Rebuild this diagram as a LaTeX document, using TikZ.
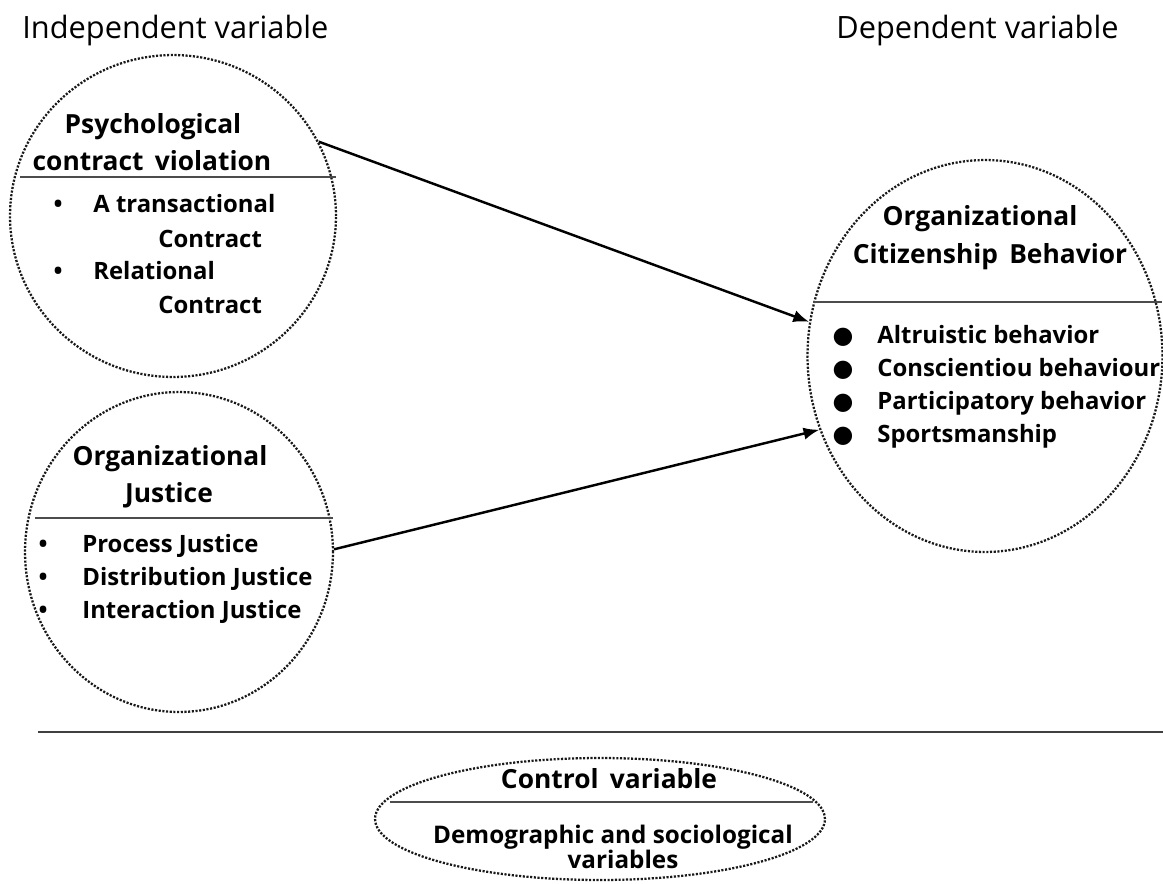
\documentclass[tikz,border=0pt]{standalone}
\usepackage{fontspec}
\setmainfont{Open Sans}
\newfontfamily\bulletfont{DejaVu Sans}
\usetikzlibrary{arrows.meta, shapes.geometric, calc}
\tikzset{
    my-circle/.style={
        ellipse, draw=black!90, line width=1.3pt, dash pattern=on 1.2pt off 0.9pt, inner sep=0pt
    },
    my-divider/.style={
        draw=black!70, line width=0.8pt
    },
    my-title/.style={
        anchor=base west, inner sep=0pt, font=\fontsize{17.5}{20}\selectfont
    },
    my-head/.style={
        anchor=base, inner sep=0pt, font=\bfseries\fontsize{15}{18}\selectfont
    },
    my-item/.style={
        anchor=base west, inner sep=0pt, font=\bfseries\fontsize{13.6}{16}\selectfont
    },
    my-dot/.style={
        anchor=base, inner sep=0pt, font=\bfseries\fontsize{13.6}{16}\selectfont
    },
    my-arrow/.style={
        -{Latex[length=9pt, width=7pt]}, line width=1.4pt
    },
}
\begin{document}
\begin{tikzpicture}[x=0.02cm, y=-0.02cm]
        \useasboundingbox (0, 0) rectangle (1163, 883);

        % TITLES
        \node[my-title] (INDEP) at (22, 38)  {Independent variable};
        \node[my-title] (DEP)   at (836, 38) {Dependent variable};

        % CIRCLES
        \node[my-circle, minimum width=6.52cm, minimum height=6.44cm] (PCV)  at (173, 216) {};
        \node[my-circle, minimum width=6.16cm, minimum height=6.40cm] (OJ)   at (179, 552) {};
        \node[my-circle, minimum width=7.10cm, minimum height=7.84cm] (OCB)  at (985, 356) {};
        \node[my-circle, minimum width=9.00cm, minimum height=2.44cm] (CTRL) at (600, 819) {};

        % PSYCHOLOGICAL CONTRACT VIOLATION
        \node[my-head] (PCVHEAD1) at ($(PCV) + (-20, -83)$) {Psychological};
        \node[my-head] (PCVHEAD2) at ($(PCV) + (-21, -46)$) {contract\, violation};
        \coordinate[]  (PCVDIVL)  at ($(PCV) + (-153, -39)$) {};
        \coordinate[]  (PCVDIVR)  at ($(PCV) + (163, -39)$)  {};
        \draw[my-divider] (PCVDIVL) -- (PCVDIVR);
        \node[my-dot]  (PCVDOT1)  at ($(PCV) + (-115, -4)$) {•};
        \node[my-item] (PCVITEM1) at ($(PCV) + (-80, -4)$)  {A transactional};
        \node[my-item] (PCVITEM2) at ($(PCV) + (-15, 31)$)  {Contract};
        \node[my-dot]  (PCVDOT2)  at ($(PCV) + (-115, 63)$) {•};
        \node[my-item] (PCVITEM3) at ($(PCV) + (-80, 63)$)  {Relational};
        \node[my-item] (PCVITEM4) at ($(PCV) + (-15, 97)$)  {Contract};

        % ORGANIZATIONAL JUSTICE
        \node[my-head] (OJHEAD1) at ($(OJ) + (-9, -87)$)  {Organizational};
        \node[my-head] (OJHEAD2) at ($(OJ) + (-10, -50)$) {Justice};
        \coordinate[]  (OJDIVL)  at ($(OJ) + (-144, -34)$) {};
        \coordinate[]  (OJDIVR)  at ($(OJ) + (154, -34)$)  {};
        \draw[my-divider] (OJDIVL) -- (OJDIVR);
        \foreach \name/\dy/\txt in {1/0/Process Justice, 2/33/Distribution Justice, 3/66/Interaction Justice} {
            \node[my-dot]  (OJDOT\name)  at ($(OJ) + (-136, \dy)$) {•};
            \node[my-item] (OJITEM\name) at ($(OJ) + (-97, \dy)$)  {\txt};
        }

        % ORGANIZATIONAL CITIZENSHIP BEHAVIOR
        \node[my-head] (OCBHEAD1) at ($(OCB) + (-5, -131)$) {Organizational};
        \node[my-head] (OCBHEAD2) at ($(OCB) + (5, -93)$)   {Citizenship\, Behavior};
        \coordinate[]  (OCBDIVL)  at ($(OCB) + (-172, -54)$) {};
        \coordinate[]  (OCBDIVR)  at ($(OCB) + (177, -54)$)  {};
        \draw[my-divider] (OCBDIVL) -- (OCBDIVR);
        \foreach \name/\dy/\txt in {1/-13/Altruistic behavior, 2/20/Conscientiou behaviour, 3/53/Participatory behavior, 4/86/Sportsmanship} {
            \node[my-dot]  (OCBDOT\name)  at ($(OCB) + (-142, \dy)$) {\bulletfont ●};
            \node[my-item] (OCBITEM\name) at ($(OCB) + (-108, \dy)$) {\txt};
        }

        % CONTROL VARIABLE
        \node[my-head] (CTRLHEAD) at ($(CTRL) + (9, -31)$) {Control\, variable};
        \coordinate[]  (CTRLDIVL) at ($(CTRL) + (-210, -17)$) {};
        \coordinate[]  (CTRLDIVR) at ($(CTRL) + (213, -17)$)  {};
        \draw[my-divider] (CTRLDIVL) -- (CTRLDIVR);
        \node[my-head] (CTRLITEM1) at ($(CTRL) + (13, 24)$) {\fontsize{13.8}{16}\selectfont Demographic and sociological};
        \node[my-head] (CTRLITEM2) at ($(CTRL) + (23, 49)$) {\fontsize{13.8}{16}\selectfont variables};

        % SEPARATOR LINE
        \coordinate[] (SEPL) at (38, 732)   {};
        \coordinate[] (SEPR) at (1163, 732) {};
        \draw[black!75, line width=1.1pt] (SEPL) -- (SEPR);

        % ARROWS
        \draw[my-arrow] (PCV.27) -- (OCB.169);
        \draw[my-arrow] (OJ.1)   -- (OCB.204);

    \end{tikzpicture}
\end{document}
